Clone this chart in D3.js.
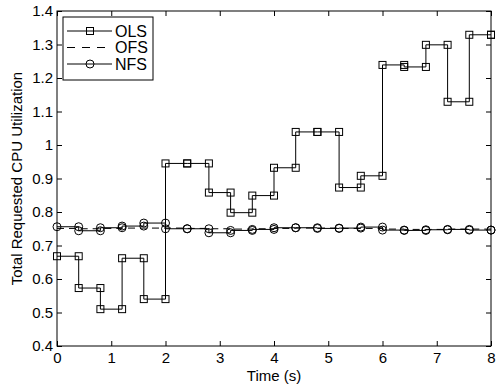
<!DOCTYPE html>
<html>
<head>
<meta charset="utf-8">
<script src="https://cdn.jsdelivr.net/npm/d3@7"></script>
<style>
  body { margin: 0; background: #fff; }
  svg text { font-family: "Liberation Sans", Arial, sans-serif; font-size: 15px; fill: #000; }
</style>
</head>
<body>
<div id="chart"></div>
<script>
// Sample times (s), one value per step start; last entry holds at t = 8
const times = [0, 0.4, 0.8, 1.2, 1.6, 2.0, 2.4, 2.8, 3.2, 3.6, 4.0, 4.4, 4.8, 5.2, 5.6, 6.0, 6.4, 6.8, 7.2, 7.6, 8.0];

const olsValues = [0.668, 0.573, 0.510, 0.662, 0.540, 0.945, 0.945, 0.858, 0.798, 0.849, 0.932,
                   1.039, 1.039, 0.873, 0.908, 1.239, 1.233, 1.299, 1.129, 1.329, 1.329];
const ofsValues = [0.751, 0.750, 0.751, 0.752, 0.752, 0.752, 0.751, 0.750, 0.749, 0.750, 0.751,
                   0.752, 0.752, 0.751, 0.751, 0.749, 0.748, 0.748, 0.749, 0.749, 0.749];
const nfsValues = [0.756, 0.744, 0.753, 0.758, 0.767, 0.750, 0.750, 0.738, 0.745, 0.748, 0.753,
                   0.753, 0.751, 0.752, 0.755, 0.746, 0.745, 0.747, 0.748, 0.746, 0.746];

const xTicks = [0, 1, 2, 3, 4, 5, 6, 7, 8];
const yTicks = [0.4, 0.5, 0.6, 0.7, 0.8, 0.9, 1.0, 1.1, 1.2, 1.3, 1.4];

const seriesNames = ['OLS', 'OFS', 'NFS'];

// Layout
const width = 497, height = 385;
const plot = { left: 57, right: 491, top: 11, bottom: 346 };
const tickLen = 5;
const dash = '7,5';

const svg = d3.select('#chart').append('svg')
    .attr('width', width)
    .attr('height', height);

const x = d3.scaleLinear().domain([0, 8]).range([plot.left, plot.right]);
const y = d3.scaleLinear().domain([0.4, 1.4]).range([plot.bottom, plot.top]);

// Stair vertices: each value held until the next sample time
function stairPoints(values) {
    const pts = [];
    for (let i = 0; i < times.length - 1; i++) {
        pts.push([times[i], values[i]]);
        pts.push([times[i + 1], values[i]]);
    }
    pts.push([times[times.length - 1], values[values.length - 1]]);
    return pts;
}

const line = d3.line().x(d => x(d[0])).y(d => y(d[1]));

// Axes (MATLAB-style box with inward ticks)
const fmt = v => (Math.round(v * 10) / 10).toString();

svg.append('g')
    .attr('transform', `translate(0,${plot.bottom})`)
    .call(d3.axisBottom(x).tickValues(xTicks).tickSizeInner(-tickLen).tickSizeOuter(0).tickPadding(6).tickFormat(fmt))
    .call(g => g.select('.domain').remove());

svg.append('g')
    .attr('transform', `translate(0,${plot.top})`)
    .call(d3.axisTop(x).tickValues(xTicks).tickSizeInner(-tickLen).tickSizeOuter(0).tickFormat(''))
    .call(g => g.select('.domain').remove());

svg.append('g')
    .attr('transform', `translate(${plot.left},0)`)
    .call(d3.axisLeft(y).tickValues(yTicks).tickSizeInner(-tickLen).tickSizeOuter(0).tickPadding(4).tickFormat(fmt))
    .call(g => g.select('.domain').remove());

svg.append('g')
    .attr('transform', `translate(${plot.right},0)`)
    .call(d3.axisRight(y).tickValues(yTicks).tickSizeInner(-tickLen).tickSizeOuter(0).tickFormat(''))
    .call(g => g.select('.domain').remove());

svg.selectAll('.tick line').attr('stroke', '#000').attr('stroke-width', 1);
svg.selectAll('.tick text').style('font-size', '15px').attr('fill', '#000');

// Series
function drawSeries(values, opts) {
    const pts = stairPoints(values);
    svg.append('path')
        .datum(pts)
        .attr('d', line)
        .attr('fill', 'none')
        .attr('stroke', '#000')
        .attr('stroke-width', 1)
        .attr('stroke-dasharray', opts.dash || null);

    if (opts.marker === 'square') {
        svg.append('g').selectAll('rect')
            .data(pts).join('rect')
            .attr('x', d => x(d[0]) - 3.5)
            .attr('y', d => y(d[1]) - 3.5)
            .attr('width', 7).attr('height', 7)
            .attr('fill', 'none').attr('stroke', '#000').attr('stroke-width', 1);
    } else if (opts.marker === 'circle') {
        svg.append('g').selectAll('circle')
            .data(pts).join('circle')
            .attr('cx', d => x(d[0]))
            .attr('cy', d => y(d[1]))
            .attr('r', 4)
            .attr('fill', 'none').attr('stroke', '#000').attr('stroke-width', 1);
    }
}

drawSeries(nfsValues, { marker: 'circle' });
drawSeries(ofsValues, { dash: dash });
drawSeries(olsValues, { marker: 'square' });

// Plot box
svg.append('rect')
    .attr('x', plot.left).attr('y', plot.top)
    .attr('width', plot.right - plot.left).attr('height', plot.bottom - plot.top)
    .attr('fill', 'none').attr('stroke', '#000').attr('stroke-width', 1);

// Axis labels
svg.append('text')
    .attr('x', (plot.left + plot.right) / 2)
    .attr('y', 381)
    .attr('text-anchor', 'middle')
    .text('Time (s)');

svg.append('text')
    .attr('transform', `translate(22,${(plot.top + plot.bottom) / 2}) rotate(-90)`)
    .attr('text-anchor', 'middle')
    .text('Total Requested CPU Utilization');

// Legend
const legend = svg.append('g');
legend.append('rect')
    .attr('x', 63).attr('y', 17)
    .attr('width', 90).attr('height', 63)
    .attr('fill', '#fff').attr('stroke', '#000').attr('stroke-width', 1);

const legendRows = [31, 47.5, 64];
const legendStyle = [
    { marker: 'square', dash: null },
    { marker: null, dash: '8,7' },
    { marker: 'circle', dash: null }
];

seriesNames.forEach((name, i) => {
    const ly = legendRows[i];
    legend.append('line')
        .attr('x1', 67).attr('x2', 112)
        .attr('y1', ly).attr('y2', ly)
        .attr('stroke', '#000').attr('stroke-width', 1)
        .attr('stroke-dasharray', legendStyle[i].dash);
    if (legendStyle[i].marker === 'square') {
        legend.append('rect')
            .attr('x', 90 - 3.5).attr('y', ly - 3.5)
            .attr('width', 7).attr('height', 7)
            .attr('fill', 'none').attr('stroke', '#000');
    } else if (legendStyle[i].marker === 'circle') {
        legend.append('circle')
            .attr('cx', 90).attr('cy', ly).attr('r', 4)
            .attr('fill', 'none').attr('stroke', '#000');
    }
    legend.append('text')
        .attr('x', 115).attr('y', ly + 5.5)
        .style('font-size', '16px')
        .text(name);
});
</script>
</body>
</html>
